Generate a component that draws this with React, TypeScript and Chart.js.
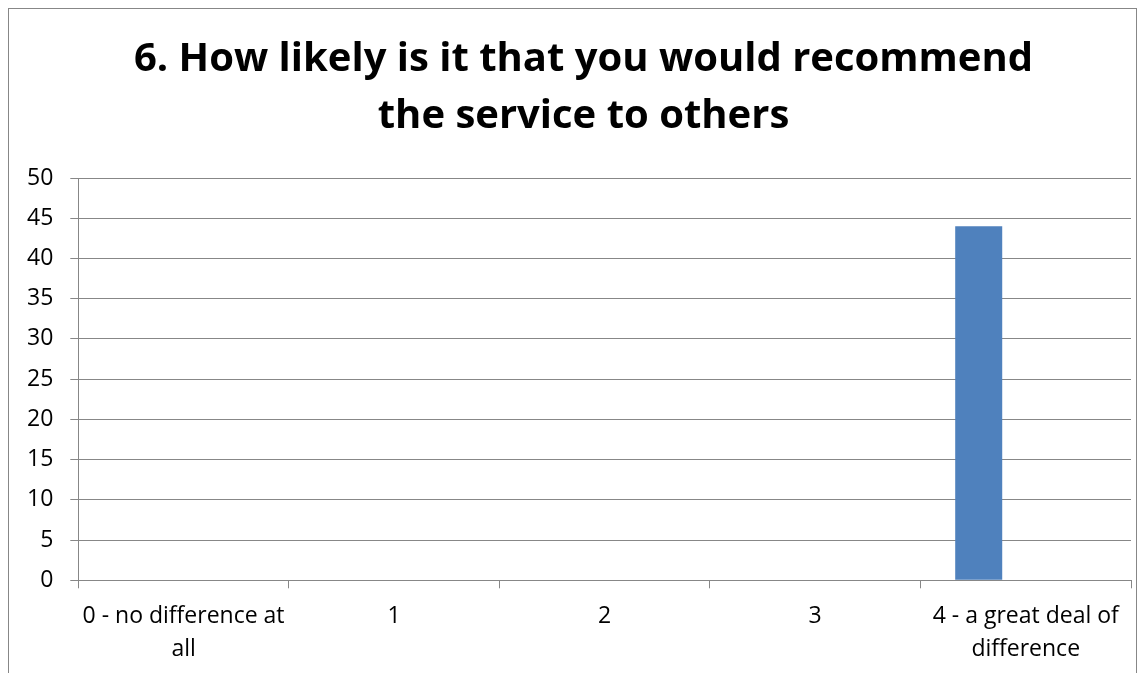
import React, { useEffect, useRef } from "react";
import { Chart, registerables } from "chart.js";

Chart.register(...registerables);

const titleLines = ["6. How likely is it that you would recommend", "the service to others"];
const categories = [
  ["0 - no difference at", "all"],
  "1",
  "2",
  "3",
  ["4 - a great deal of", "difference"],
];
const series1 = [0, 0, 0, 0, 44];
const series2 = [0, 0, 0, 0, 0];
const series3 = [0, 0, 0, 0, 0];
const yMin = 0;
const yMax = 50;
const yStep = 5;

const FONT = "'Open Sans', 'DejaVu Sans', sans-serif";
const GRID = "#878787";

const titleShift = {
  id: "titleShift",
  afterLayout(chart: any) {
    const tb = chart.titleBlock;
    if (tb) {
      tb.left += 13;
      tb.right += 13;
    }
  },
};

export default function App() {
  const ref = useRef<HTMLCanvasElement | null>(null);

  useEffect(() => {
    if (!ref.current) return;
    const chart = new Chart(ref.current, {
      type: "bar",
      data: {
        labels: categories as any,
        datasets: [
          { label: "Series1", data: series1, backgroundColor: "#4F81BD", borderWidth: 0 },
          { label: "Series2", data: series2, backgroundColor: "#C0504D", borderWidth: 0 },
          { label: "Series3", data: series3, backgroundColor: "#9BBB59", borderWidth: 0 },
        ],
      },
      plugins: [titleShift],
      options: {
        animation: false,
        responsive: true,
        maintainAspectRatio: false,
        layout: { padding: { left: 1, right: 5, top: 0, bottom: 32 } },
        datasets: { bar: { categoryPercentage: 0.67, barPercentage: 1 } },
        plugins: {
          legend: { display: false },
          tooltip: { enabled: false },
          title: {
            display: true,
            text: titleLines,
            color: "#000",
            font: { family: FONT, size: 40, weight: "bold", lineHeight: 1.425 },
            padding: { top: 22, bottom: 33 },
          },
        },
        scales: {
          x: {
            grid: {
              display: true,
              drawOnChartArea: false,
              drawTicks: true,
              tickLength: 8,
              color: GRID,
              offset: true,
            },
            border: { display: true, color: GRID, width: 1 },
            ticks: {
              color: "#000",
              font: { family: FONT, size: 23, lineHeight: 1.45 },
              padding: 11,
              maxRotation: 0,
              autoSkip: false,
            },
          },
          y: {
            min: yMin,
            max: yMax,
            grid: { color: GRID, tickLength: 8, drawTicks: true },
            border: { display: true, color: GRID, width: 1 },
            ticks: {
              stepSize: yStep,
              color: "#000",
              font: { family: FONT, size: 23 },
              padding: 17,
            },
          },
        },
      },
    });
    return () => chart.destroy();
  }, []);

  return (
    <div style={{ border: `1px solid ${GRID}` }}>
      <div style={{ position: "relative", height: 700 }}>
        <canvas ref={ref} />
      </div>
    </div>
  );
}
